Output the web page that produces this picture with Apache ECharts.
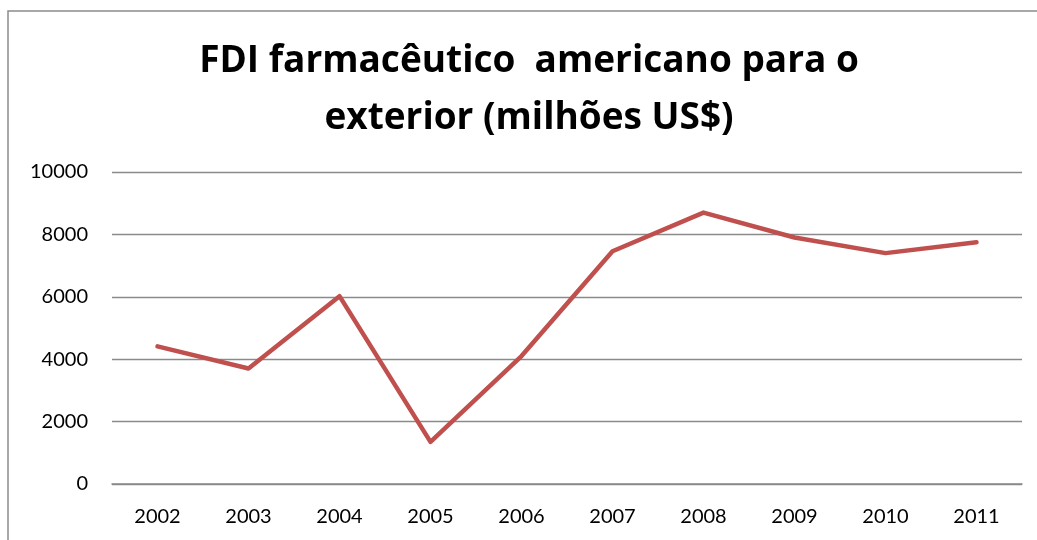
<!DOCTYPE html>
<html>
<head>
<meta charset="utf-8">
<script src="https://cdn.jsdelivr.net/npm/echarts@6/dist/echarts.min.js"></script>
<style>
  html, body { margin: 0; padding: 0; background: #fff; }
  #chart { width: 1037px; height: 540px; }
</style>
</head>
<body>
<div id="chart"></div>
<script>
// FDI farmacêutico americano para o exterior (milhões US$)
const years = ['2002', '2003', '2004', '2005', '2006', '2007', '2008', '2009', '2010', '2011'];
const fdiValues = [4410, 3700, 6020, 1350, 4100, 7460, 8700, 7900, 7400, 7750];
const yTicks = [0, 2000, 4000, 6000, 8000, 10000];

const FONT = 'Lato, "Open Sans", sans-serif';
const TITLE_FONT = '"Open Sans", Lato, sans-serif';
const GRID_COLOR = '#8a8a8a';

const chart = echarts.init(document.getElementById('chart'));

chart.setOption({
    animation: false,
    textStyle: { fontFamily: FONT },
    title: {
        text: 'FDI farmacêutico  americano para o\nexterior (milhões US$)',
        left: 529,
        top: 33,
        padding: 0,
        textAlign: 'center',
        textStyle: {
            fontFamily: TITLE_FONT,
            fontWeight: 'bold',
            fontSize: 37,
            lineHeight: 57,
            color: '#000'
        }
    },
    // outer chart-area frame (cut off on the right and bottom)
    graphic: [{
        type: 'rect',
        shape: { x: 8, y: 11, width: 1100, height: 600 },
        style: { fill: 'none', stroke: '#8c8c8c', lineWidth: 1.5 },
        silent: true
    }],
    grid: { left: 112, right: 15, top: 172, bottom: 56 },
    xAxis: {
        type: 'category',
        data: years,
        boundaryGap: true,
        axisLine: { show: true, lineStyle: { color: GRID_COLOR, width: 1.5 } },
        axisTick: { show: false },
        axisLabel: { color: '#000', fontSize: 20, margin: 23, fontFamily: FONT }
    },
    yAxis: {
        type: 'value',
        min: yTicks[0],
        max: yTicks[yTicks.length - 1],
        interval: 2000,
        axisLine: { show: false },
        axisTick: { show: false },
        axisLabel: {
            color: '#000',
            fontSize: 20,
            margin: 24,
            fontFamily: FONT,
            formatter: (v) => String(v)
        },
        splitLine: { lineStyle: { color: GRID_COLOR, width: 1.3 } }
    },
    series: [{
        name: 'FDI',
        type: 'line',
        data: fdiValues,
        symbol: 'none',
        lineStyle: { color: '#C0504D', width: 4.5, cap: 'round', join: 'round' },
        itemStyle: { color: '#C0504D' }
    }]
});
</script>
</body>
</html>
